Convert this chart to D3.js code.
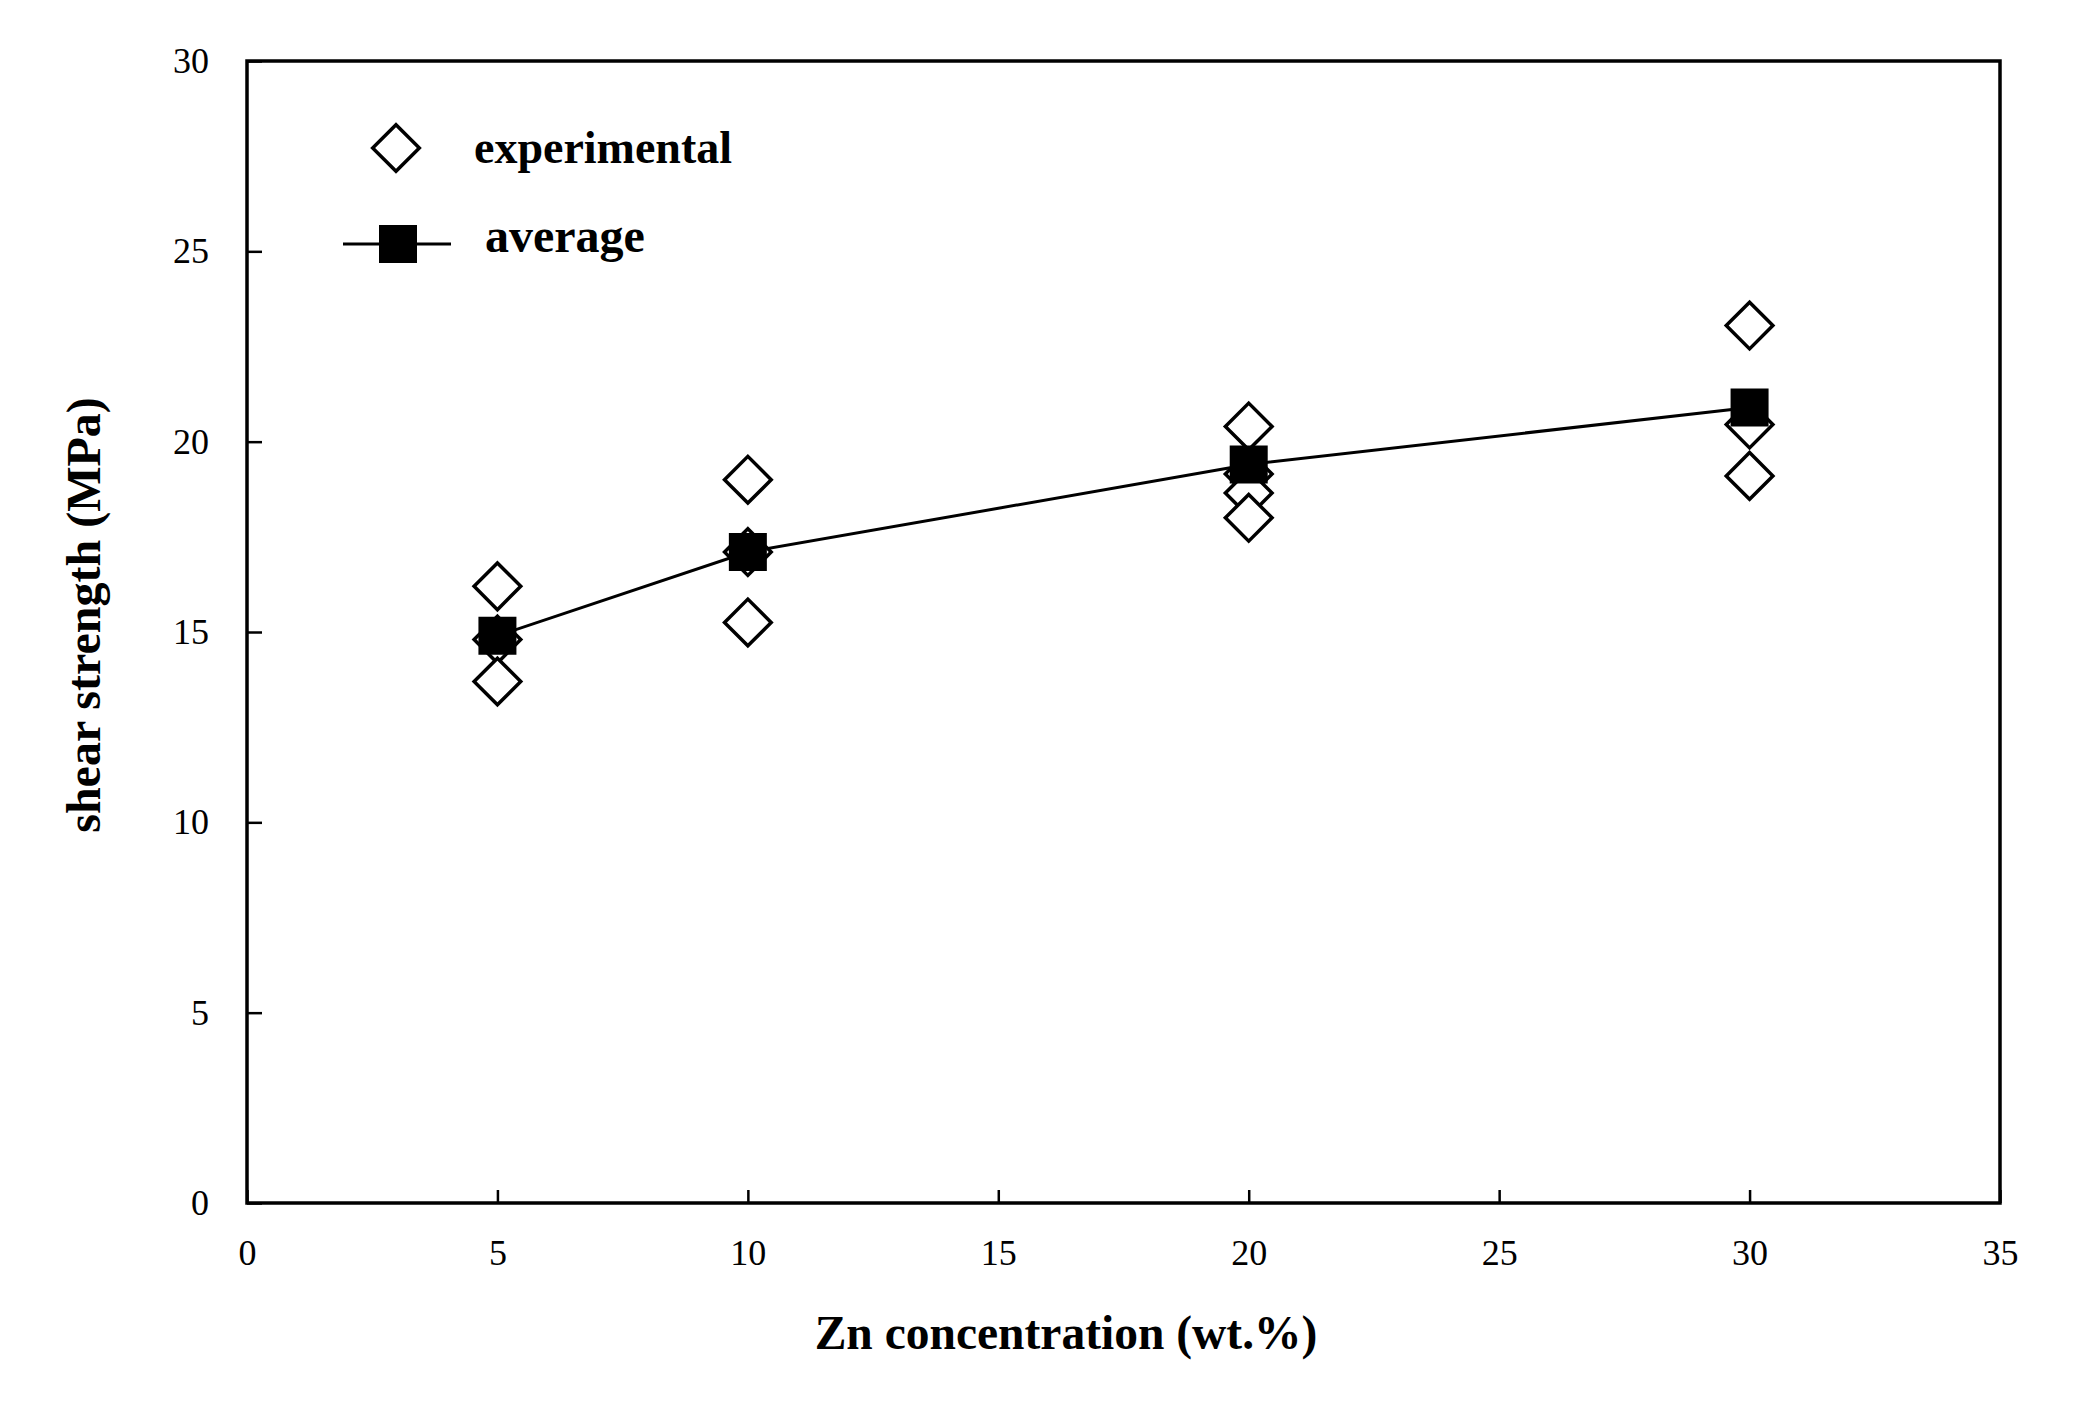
<!DOCTYPE html>
<html>
<head>
<meta charset="utf-8">
<script src="https://cdn.jsdelivr.net/npm/d3@7"></script>
<style>
  body { margin: 0; background: #fff; }
  text { font-family: "Liberation Serif", "Times New Roman", serif; fill: #000; }
</style>
</head>
<body>
<div id="chart"></div>
<script>
// Zn concentration (wt.%) groups
var znLevels = [5, 10, 20, 30];
// individual shear strength results per group (MPa)
var experimental = [
  [16.2, 14.8, 13.7],
  [19.0, 17.1, 15.25],
  [20.4, 19.15, 18.65, 18.0],
  [23.05, 20.45, 19.1]
];
var average = [14.9, 17.1, 19.4, 20.9];
var xTicks = [0, 5, 10, 15, 20, 25, 30, 35];
var yTicks = [0, 5, 10, 15, 20, 25, 30];

var width = 2073, height = 1402;
var margin = { top: 61, right: 73, bottom: 199, left: 247 };

var svg = d3.select("#chart")
  .append("svg")
  .attr("width", width)
  .attr("height", height);

var x = d3.scaleLinear().domain([0, 35]).range([margin.left, width - margin.right]);
var y = d3.scaleLinear().domain([0, 30]).range([height - margin.bottom, margin.top]);

// frame
svg.append("rect")
  .attr("x", x(0))
  .attr("y", y(30))
  .attr("width", x(35) - x(0))
  .attr("height", y(0) - y(30))
  .attr("fill", "none")
  .attr("stroke", "#000")
  .attr("stroke-width", 3.5);

// x axis (ticks pointing inward)
var xAxis = svg.append("g")
  .attr("transform", "translate(0," + y(0) + ")")
  .call(d3.axisBottom(x).tickValues(xTicks).tickSizeInner(-13).tickSizeOuter(0).tickPadding(36));
xAxis.select(".domain").remove();
xAxis.selectAll("line").attr("stroke-width", 2.5);
xAxis.selectAll("text")
  .style("font-family", "Liberation Serif, serif")
  .style("font-size", "36px");

// y axis
var yAxis = svg.append("g")
  .attr("transform", "translate(" + x(0) + ",0)")
  .call(d3.axisLeft(y).tickValues(yTicks).tickSizeInner(-15).tickSizeOuter(0).tickPadding(38));
yAxis.select(".domain").remove();
yAxis.selectAll("line").attr("stroke-width", 2.5);
yAxis.selectAll("text")
  .style("font-family", "Liberation Serif, serif")
  .style("font-size", "36px");

// axis titles
svg.append("text")
  .attr("x", 1066)
  .attr("y", 1349)
  .attr("text-anchor", "middle")
  .style("font-size", "47.5px")
  .style("font-weight", "bold")
  .text("Zn concentration (wt.%)");

svg.append("text")
  .attr("transform", "translate(100,615) rotate(-90)")
  .attr("text-anchor", "middle")
  .style("font-size", "48px")
  .style("font-weight", "bold")
  .text("shear strength (MPa)");

var diamond = d3.symbol().type(d3.symbolSquare).size(33 * 33);
var square = d3.symbol().type(d3.symbolSquare).size(38 * 38);

// average line
var line = d3.line()
  .x(function (d, i) { return x(znLevels[i]); })
  .y(function (d) { return y(d); });

svg.append("path")
  .datum(average)
  .attr("d", line)
  .attr("fill", "none")
  .attr("stroke", "#000")
  .attr("stroke-width", 3);

// experimental points
var pts = [];
znLevels.forEach(function (z, i) {
  experimental[i].forEach(function (v) { pts.push({ x: z, y: v }); });
});

svg.append("g").selectAll("path")
  .data(pts)
  .enter()
  .append("path")
  .attr("d", diamond)
  .attr("transform", function (d) { return "translate(" + x(d.x) + "," + y(d.y) + ") rotate(45)"; })
  .attr("fill", "#fff")
  .attr("stroke", "#000")
  .attr("stroke-width", 3.5);

// average squares
svg.append("g").selectAll("path")
  .data(average)
  .enter()
  .append("path")
  .attr("d", square)
  .attr("transform", function (d, i) { return "translate(" + x(znLevels[i]) + "," + y(d) + ")"; })
  .attr("fill", "#000");

// legend
var leg = svg.append("g");
leg.append("path")
  .attr("d", diamond)
  .attr("transform", "translate(396,148) rotate(45)")
  .attr("fill", "#fff")
  .attr("stroke", "#000")
  .attr("stroke-width", 3.5);
leg.append("text")
  .attr("x", 474)
  .attr("y", 163)
  .style("font-size", "46px")
  .style("font-weight", "bold")
  .text("experimental");

leg.append("line")
  .attr("x1", 343).attr("x2", 451)
  .attr("y1", 244).attr("y2", 244)
  .attr("stroke", "#000")
  .attr("stroke-width", 3);
leg.append("path")
  .attr("d", square)
  .attr("transform", "translate(398,244)")
  .attr("fill", "#000");
leg.append("text")
  .attr("x", 485)
  .attr("y", 252)
  .style("font-size", "48px")
  .style("font-weight", "bold")
  .text("average");
</script>
</body>
</html>
